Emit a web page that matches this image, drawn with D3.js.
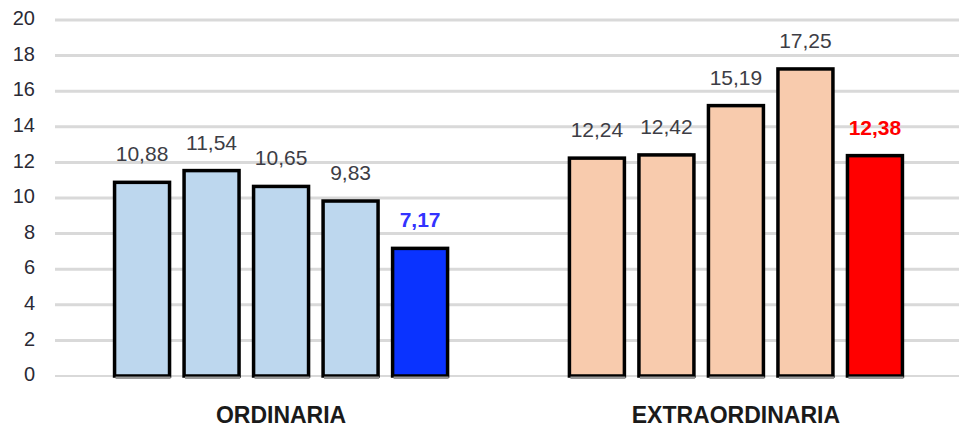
<!DOCTYPE html>
<html>
<head>
<meta charset="utf-8">
<script src="https://cdn.jsdelivr.net/npm/d3@7"></script>
<style>
  html, body { margin: 0; padding: 0; background: #fff; }
  svg { display: block; }
  text { font-family: "Liberation Sans", Arial, sans-serif; }
</style>
</head>
<body>
<svg id="chart" width="959" height="429"></svg>
<script>
// ---- data ----
const groups = ["ORDINARIA", "EXTRAORDINARIA"];
const ordinariaValues = [10.88, 11.54, 10.65, 9.83, 7.17];
const extraordinariaValues = [12.24, 12.42, 15.19, 17.25, 12.38];
const yTicks = [0, 2, 4, 6, 8, 10, 12, 14, 16, 18, 20];

const seriesByGroup = { "ORDINARIA": ordinariaValues, "EXTRAORDINARIA": extraordinariaValues };
const fillByGroup = {
  "ORDINARIA": ["#bdd7ee", "#bdd7ee", "#bdd7ee", "#bdd7ee", "#0a33ff"],
  "EXTRAORDINARIA": ["#f8cbad", "#f8cbad", "#f8cbad", "#f8cbad", "#ff0000"]
};
const labelByGroup = {
  "ORDINARIA": ["#3d3d45", "#3d3d45", "#3d3d45", "#3d3d45", "#3333ff"],
  "EXTRAORDINARIA": ["#3d3d45", "#3d3d45", "#3d3d45", "#3d3d45", "#ff0000"]
};

const svg = d3.select("#chart");
const y = d3.scaleLinear().domain([0, 20]).range([376, 20]);

const x0 = d3.scaleBand().domain(groups).range([55, 962]).paddingInner(0.204).paddingOuter(0.099);
const x1 = d3.scaleBand().domain(d3.range(5)).range([0, x0.bandwidth()]).paddingInner(0.209).paddingOuter(0.209);

// gridlines
svg.append("g").selectAll("line").data(yTicks).join("line")
  .attr("x1", 55).attr("x2", 959)
  .attr("y1", d => y(d)).attr("y2", d => y(d))
  .attr("stroke", "#d9d9d9")
  .attr("stroke-width", d => d === 0 ? 2 : 3);

// y tick labels
svg.append("g").selectAll("text").data(yTicks).join("text")
  .attr("x", 35).attr("y", d => y(d))
  .attr("text-anchor", "end").attr("dominant-baseline", "middle")
  .attr("font-size", 20).attr("fill", "#2a2a35")
  .text(d => d);

const fmt = v => v.toFixed(2).replace(".", ",");

groups.forEach(g => {
  const gx = x0(g);
  const vals = seriesByGroup[g];
  const gg = svg.append("g").attr("transform", `translate(${gx},0)`);
  // bars
  gg.selectAll("rect.bar").data(vals).join("rect")
    .attr("class", "bar")
    .attr("x", (d, i) => x1(i))
    .attr("y", d => y(d))
    .attr("width", x1.bandwidth())
    .attr("height", d => y(0) - y(d))
    .attr("fill", (d, i) => fillByGroup[g][i])
    .attr("stroke", "#000")
    .attr("stroke-width", 3.5);
  // shadow along bottom edge
  gg.selectAll("rect.shadow").data(vals).join("rect")
    .attr("class", "shadow")
    .attr("x", (d, i) => x1(i) + 1)
    .attr("y", y(0) + 0.5)
    .attr("width", x1.bandwidth())
    .attr("height", 2.5)
    .attr("fill", "#9a9a9a");
  // value labels
  gg.selectAll("text.val").data(vals).join("text")
    .attr("class", "val")
    .attr("x", (d, i) => x1(i) + x1.bandwidth() / 2)
    .attr("y", d => y(d) - 21)
    .attr("text-anchor", "middle")
    .attr("font-size", 21)
    .attr("font-weight", (d, i) => i === 4 ? "bold" : "normal")
    .attr("fill", (d, i) => labelByGroup[g][i])
    .text(d => fmt(d));
  // category label
  svg.append("text")
    .attr("x", gx + x0.bandwidth() / 2)
    .attr("y", 423)
    .attr("text-anchor", "middle")
    .attr("font-size", 23)
    .attr("font-weight", "bold")
    .attr("fill", "#1a1a1a")
    .text(g);
});
</script>
</body>
</html>
